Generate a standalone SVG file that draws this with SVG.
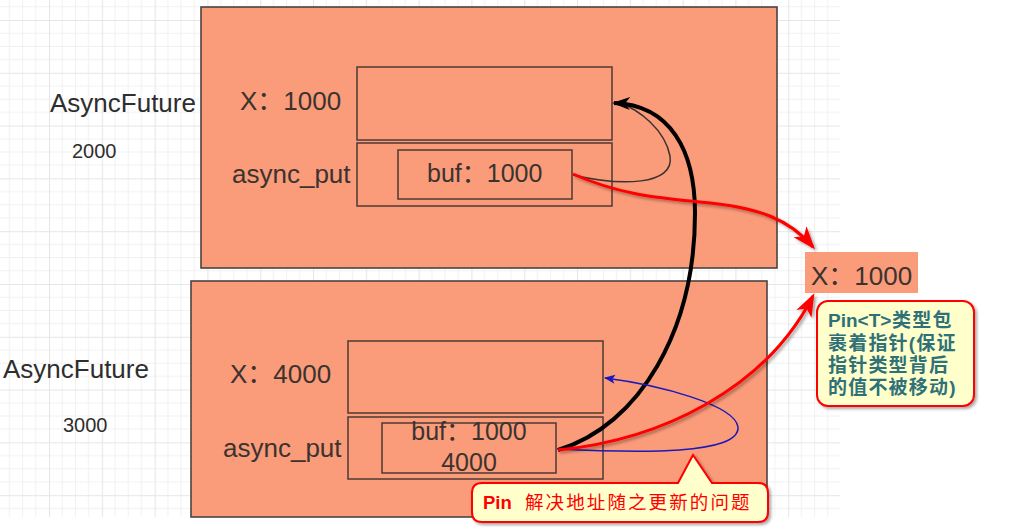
<svg xmlns="http://www.w3.org/2000/svg" width="1026" height="528" viewBox="0 0 1026 528">
<style>
.bg{fill:#ffffff}
.outer{fill:#FA9B7A;stroke:#4a4440;stroke-width:1.6}
.inner{fill:#FA9B7A;stroke:#4d3a33;stroke-width:1.5}
.lbl{font-family:"Liberation Sans","Noto Sans CJK SC",sans-serif;fill:#3a3330}
.side{font-family:"Liberation Sans","Noto Sans CJK SC",sans-serif;fill:#2e2e2e}
.callout{fill:#FFFFCC;stroke:#FF0000;stroke-width:2}
.note{font-family:"Liberation Sans","Noto Sans CJK SC",sans-serif;font-size:19px;font-weight:bold;fill:#2E7178;letter-spacing:1.2px}
.red{font-family:"Liberation Sans","Noto Sans CJK SC",sans-serif;font-size:18.5px;fill:#FF0000}
</style>
<defs>
<pattern id="grid" x="49" y="20" width="52.8" height="52.8" patternUnits="userSpaceOnUse">
<path d="M13.2 0V52.8M26.4 0V52.8M39.6 0V52.8M0 13.2H52.8M0 26.4H52.8M0 39.6H52.8" stroke="#f1f1f1" stroke-width="1" fill="none"/>
<path d="M0.5 0V52.8M0 0.5H52.8" stroke="#e6e6e6" stroke-width="1.2" fill="none"/>
</pattern>
<filter id="sh" x="-20%" y="-20%" width="140%" height="140%">
<feDropShadow dx="2" dy="2" stdDeviation="1.5" flood-color="#000" flood-opacity="0.35"/>
</filter>
<marker id="mBlack" viewBox="0 0 20 14" refX="18" refY="7" markerWidth="20" markerHeight="14" markerUnits="userSpaceOnUse" orient="auto">
<path d="M20,7 L2,0.5 L7,7 L2,13.5 Z" fill="#000"/>
</marker>
<marker id="mRed" viewBox="0 0 24 18" refX="21" refY="9" markerWidth="24" markerHeight="18" markerUnits="userSpaceOnUse" orient="auto">
<path d="M24,9 L1,0.5 L7,9 L1,17.5 Z" fill="#FF0000"/>
</marker>
<marker id="mBlue" viewBox="0 0 12 10" refX="11" refY="5" markerWidth="12" markerHeight="10" markerUnits="userSpaceOnUse" orient="auto">
<path d="M12,5 L1,0.5 L3.5,5 L1,9.5 Z" fill="#1a1ab8"/>
</marker>
</defs>
<rect class="bg" x="0" y="0" width="1026" height="528"/>
<rect x="0" y="0" width="840" height="517" fill="url(#grid)"/>

<g id="node-future-2000">
<rect class="outer" x="201" y="7" width="576" height="261"/>
<rect class="inner" x="357" y="67" width="255" height="73"/>
<rect class="inner" x="357" y="143" width="255" height="63"/>
<rect class="inner" x="398" y="150" width="174" height="49"/>
<text class="lbl" x="240" y="110" font-size="26">X：1000</text>
<text class="lbl" x="232" y="183" font-size="26">async_put</text>
<text class="lbl" x="427" y="182" font-size="25">buf：1000</text>
</g>

<g id="label-2000">
<text class="side" x="50" y="112" font-size="26">AsyncFuture</text>
<text class="side" x="72" y="158" font-size="20">2000</text>
</g>

<g id="node-future-3000">
<rect class="outer" x="191" y="281" width="576" height="236"/>
<rect class="inner" x="348" y="341" width="255" height="72"/>
<rect class="inner" x="348" y="417" width="255" height="62"/>
<rect class="inner" x="382" y="423" width="174" height="50"/>
<text class="lbl" x="230" y="383" font-size="26">X：4000</text>
<text class="lbl" x="223" y="457" font-size="26">async_put</text>
<text class="lbl" x="469" y="440" font-size="25" text-anchor="middle">buf：1000</text>
<text class="lbl" x="469" y="471" font-size="25" text-anchor="middle">4000</text>
</g>

<g id="label-3000">
<text class="side" x="3" y="378" font-size="26">AsyncFuture</text>
<text class="side" x="63" y="432" font-size="20">3000</text>
</g>

<g id="node-pinned-x">
<rect x="805" y="252" width="113" height="41" fill="#FA9B7A"/>
<text class="lbl" x="811" y="285" font-size="26">X：1000</text>
</g>

<g id="connectors" fill="none">
<path d="M573,175 C620,186 675,186 670,156 C665,130 640,110 618,102" stroke="#3a3330" stroke-width="1.5"/>
<path d="M558,450 C640,425 695,330 695,213 C695,150 670,105 614,103" stroke="#000" stroke-width="4" marker-end="url(#mBlack)"/>
<path d="M557,449 C640,453 740,455 738,427 C735,405 660,385 605,378" stroke="#1a1ab8" stroke-width="1.5" marker-end="url(#mBlue)"/>
<g filter="url(#sh)">
<path d="M573,174 C620,195 660,198 700,202 C760,207 790,220 813,247" stroke="#FF0000" stroke-width="3" marker-end="url(#mRed)"/>
<path d="M558,450 C660,440 765,390 813,296" stroke="#FF0000" stroke-width="3" marker-end="url(#mRed)"/>
</g>
</g>

<g id="note-pin-t" filter="url(#sh)">
<rect class="callout" x="817" y="301" width="157" height="105" rx="11"/>
</g>
<g id="note-pin-t-text">
<text class="note" x="828" y="327"><tspan letter-spacing="0">Pin&lt;T&gt;</tspan><tspan x="892">类型包</tspan></text>
<text class="note" x="828" y="350">裹着指针(保证</text>
<text class="note" x="828" y="372">指针类型背后</text>
<text class="note" x="828" y="394">的值不被移动)</text>
</g>

<g id="note-pin" filter="url(#sh)">
<path class="callout" d="M482,483 L678,483 L693,455 L712,483 L758,483 Q768,483 768,493 L768,512 Q768,522 758,522 L482,522 Q472,522 472,512 L472,493 Q472,483 482,483 Z"/>
</g>
<g id="note-pin-text">
<text class="red" x="483" y="509" font-weight="bold" font-size="19">Pin</text>
<text class="red" x="525" y="509" letter-spacing="2.1">解决地址随之更新的问题</text>
</g>
</svg>
